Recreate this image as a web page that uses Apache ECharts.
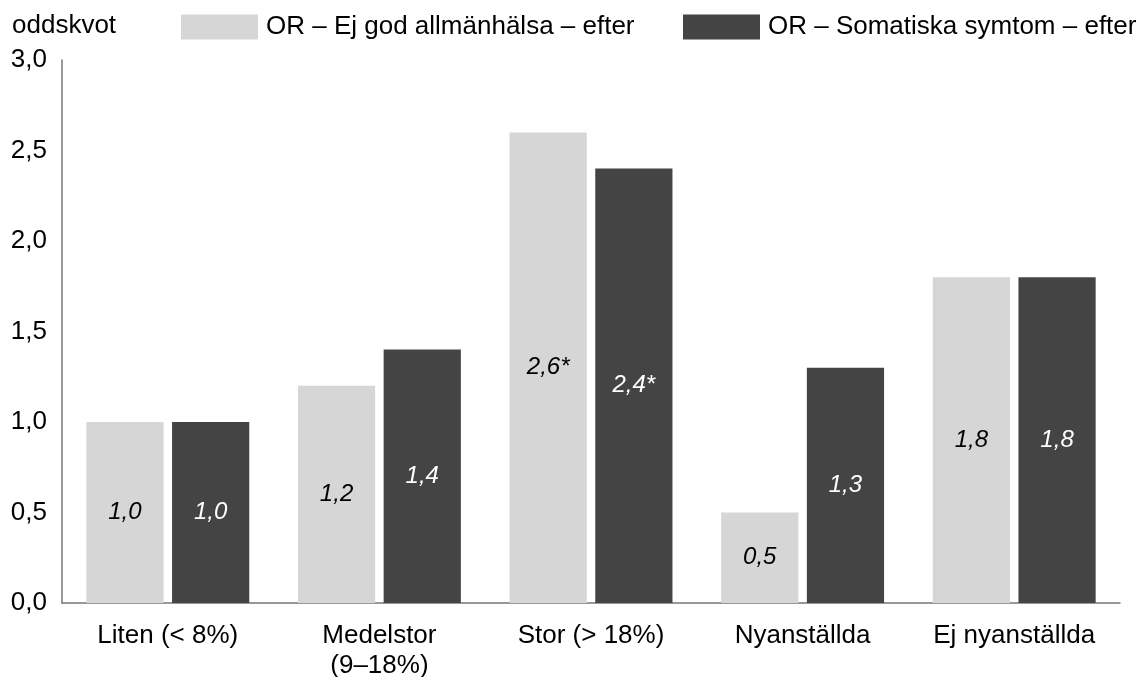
<!DOCTYPE html>
<html><head><meta charset="utf-8">
<script src="https://cdn.jsdelivr.net/npm/echarts@6/dist/echarts.min.js"></script>
<style>html,body{margin:0;padding:0;background:#fff}#c{width:1145px;height:677px}</style>
</head><body><div id="c"></div>
<script>
const categories = ['Liten (< 8%)', 'Medelstor\n(9–18%)', 'Stor (> 18%)', 'Nyanställda', 'Ej nyanställda'];
const seriesNames = ['OR – Ej god allmänhälsa – efter', 'OR – Somatiska symtom – efter'];
const allmanhalsa = [1.0, 1.2, 2.6, 0.5, 1.8];
const somatiska = [1.0, 1.4, 2.4, 1.3, 1.8];
const significant1 = [false, false, true, false, false];
const significant2 = [false, false, true, false, false];
const yTicks = [0, 0.5, 1.0, 1.5, 2.0, 2.5, 3.0];

const FONT = '"Liberation Sans", Arial, Helvetica, sans-serif';
const fmt = v => v.toFixed(1).replace('.', ',');

const chart = echarts.init(document.getElementById('c'));
function mk(name, data, sig, color, labelColor) {
  return {
    name, type: 'bar', data,
    itemStyle: { color },
    barGap: '11%', barCategoryGap: '23%',
    label: {
      show: true, position: 'inside', color: labelColor,
      fontFamily: FONT, fontSize: 24, fontStyle: 'italic',
      formatter: p => fmt(p.value) + (sig[p.dataIndex] ? '*' : '')
    }
  };
}
const legendBase = {
  top: 9, itemWidth: 77, itemHeight: 25, icon: 'rect',
  textStyle: { fontFamily: FONT, fontSize: 26, color: '#000', padding: [0, 0, 0, 3] }
};
chart.setOption({
  animation: false,
  title: { text: 'oddskvot', left: 7, top: 8, textStyle: { fontFamily: FONT, fontSize: 26, fontWeight: 'normal', color: '#000' } },
  legend: [
    Object.assign({}, legendBase, { left: 176, data: [seriesNames[0]] }),
    Object.assign({}, legendBase, { left: 678, data: [seriesNames[1]] })
  ],
  grid: { left: 62, right: 25, top: 60, bottom: 74, containLabel: false, outerBoundsMode: 'none' },
  xAxis: {
    type: 'category', data: categories,
    axisLine: { lineStyle: { color: '#777', width: 1.5 } },
    axisTick: { show: false },
    axisLabel: { fontFamily: FONT, fontSize: 26, color: '#000', margin: 18, lineHeight: 30 }
  },
  yAxis: {
    type: 'value', min: 0, max: 3, interval: 0.5,
    axisLine: { show: true, lineStyle: { color: '#777', width: 1.5 } },
    axisTick: { show: false },
    splitLine: { show: false },
    axisLabel: { fontFamily: FONT, fontSize: 26, color: '#000', margin: 15, formatter: v => fmt(v) }
  },
  series: [
    mk(seriesNames[0], allmanhalsa, significant1, '#d6d6d6', '#000'),
    mk(seriesNames[1], somatiska, significant2, '#444444', '#fff')
  ]
});
</script></body></html>
